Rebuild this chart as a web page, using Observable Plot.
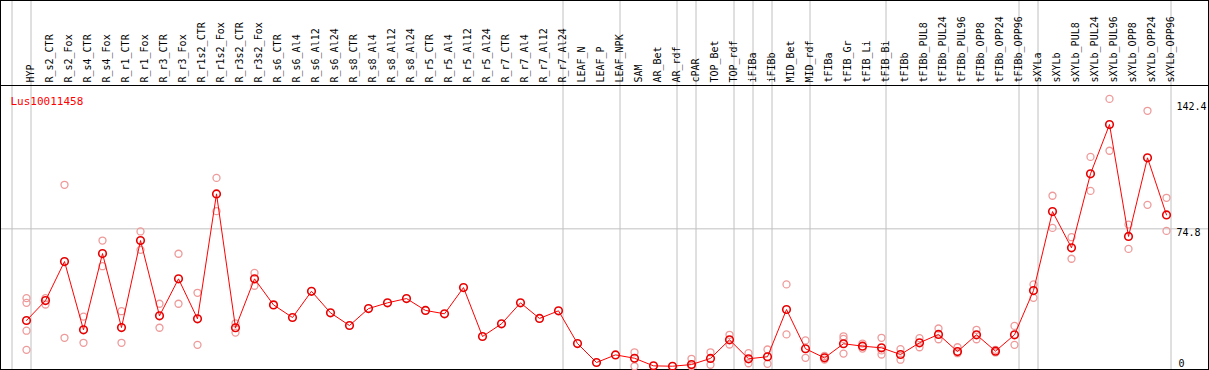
<!DOCTYPE html>
<html>
<head>
<meta charset="utf-8">
<script src="https://cdn.jsdelivr.net/npm/d3@7"></script>
<script src="https://cdn.jsdelivr.net/npm/@observablehq/plot@0.6"></script>
<style>
  html, body { margin: 0; padding: 0; background: #fff; overflow: hidden; }
  svg { display: block; }
</style>
</head>
<body>
<div id="chart"></div>
<script>
const geneId = "Lus10011458";

const samples = [
  "HYP","R_s2_CTR","R_s2_Fox","R_s4_CTR","R_s4_Fox","R_r1_CTR","R_r1_Fox","R_r3_CTR","R_r3_Fox",
  "R_r1s2_CTR","R_r1s2_Fox","R_r3s2_CTR","R_r3s2_Fox","R_s6_CTR","R_s6_Al4","R_s6_Al12","R_s6_Al24",
  "R_s8_CTR","R_s8_Al4","R_s8_Al12","R_s8_Al24","R_r5_CTR","R_r5_Al4","R_r5_Al12","R_r5_Al24",
  "R_r7_CTR","R_r7_Al4","R_r7_Al12","R_r7_Al24","LEAF_N","LEAF_P","LEAF_NPK","SAM","AR_Bet","AR_rdf",
  "cPAR","TOP_Bet","TOP_rdf","iFIBa","iFIBb","MID_Bet","MID_rdf","tFIBa","tFIB_Gr","tFIB_Li","tFIB_Bi",
  "tFIBb","tFIBb_PUL8","tFIBb_PUL24","tFIBb_PUL96","tFIBb_OPP8","tFIBb_OPP24","tFIBb_OPP96",
  "sXYLa","sXYLb","sXYLb_PUL8","sXYLb_PUL24","sXYLb_PUL96","sXYLb_OPP8","sXYLb_OPP24","sXYLb_OPP96"
];

const means = [
  25.5, 36.2, 57.2, 20.5, 61.5, 21.7, 68.5, 28.0, 47.9, 26.4, 93.6, 21.6, 47.9,
  33.9, 27.1, 41.2, 29.6, 22.8, 31.9, 35.0, 37.3, 30.9, 29.1, 43.2, 16.9, 23.7, 35.0, 26.6, 30.7,
  13.1, 2.9, 7.0, 5.2, 1.1, 0.9, 1.8, 5.1, 15.1, 4.9, 6.0, 31.4, 10.3,
  5.4, 13.0, 11.7, 10.8, 7.2, 13.5, 18.0, 8.8, 17.8, 9.0, 17.8,
  41.6, 84.1, 64.6, 104.4, 130.9, 70.7, 113.0, 82.3
];

const replicates = [
  [37.5, 35.0, 20.0, 9.7], [37.5, 34.1], [98.5, 16.2], [27.6, 13.5], [68.5, 54.7], [30.5, 13.5],
  [73.4, 63.5], [34.5, 21.6], [61.4, 34.5], [40.4, 12.4], [102.2, 84.3], [24.0, 19.0], [51.1, 44.2],
  [], [], [], [], [], [], [], [], [], [], [], [], [], [], [], [],
  [], [], [], [8.4, 0.9], [], [], [4.9, 0.9], [8.4, 1.7], [17.8, 12.6], [7.9, 2.5], [9.9, 2.2],
  [44.9, 18.0], [14.8, 5.4], [6.4, 4.5], [17.0, 15.6, 7.7], [13.1, 10.4], [16.2, 9.4, 7.2],
  [10.1, 4.4], [16.0, 11.1], [21.2, 15.4], [11.1, 7.9], [20.5, 15.4], [9.7, 8.3], [22.6, 12.4],
  [44.9, 37.7], [92.6, 75.3], [70.3, 58.7], [113.5, 95.2], [144.7, 116.8], [77.1, 64.0],
  [138.3, 87.7], [91.5, 73.7]
];

// indices of the first sample of each tissue group (plus the end)
const groupStarts = [0, 1, 29, 32, 35, 36, 38, 39, 40, 42, 46, 53, 54, 61];

const yTickLabels = [142.4, 74.8, 0];
const yGrid = [74.8];
const yMax = 151.9;

const meanData = samples.map((s, i) => ({i, sample: s, value: means[i]}));
const repData = replicates.flatMap((vals, i) => vals.map(v => ({i, value: v})));

const W = 1209, H = 370;
const mono = "DejaVu Sans Mono";

const chart = Plot.plot({
  width: W,
  height: H,
  marginTop: 85,
  marginBottom: 1,
  marginLeft: 2,
  marginRight: 39,
  style: {fontFamily: mono, fontSize: "10px", background: "#fff", overflow: "visible"},
  x: {type: "linear", domain: [0, samples.length - 1], range: [26, 1166], axis: null},
  y: {type: "linear", domain: [0, yMax], range: [367.4, 85], axis: null},
  marks: [
    // group separators
    Plot.ruleX(groupStarts, {x: d => d, dx: -14.5, stroke: "#c0c0c0", strokeWidth: 1, insetTop: -85, insetBottom: -1}),
    // horizontal grid
    Plot.ruleY(yGrid, {y: d => d, stroke: "#c0c0c0", strokeWidth: 1, insetLeft: -2, insetRight: -38}),
    // header separator
    Plot.ruleY([yMax], {y: d => d, stroke: "#000", strokeWidth: 1, insetLeft: -2, insetRight: -38}),
    // outer frame
    Plot.frame({stroke: "#000", strokeWidth: 1, insetTop: -85, insetLeft: -2, insetRight: -38, insetBottom: 0}),
    // sample labels
    Plot.text(samples, {
      x: (d, i) => i, text: d => d, frameAnchor: "top", dy: -3,
      rotate: -90, textAnchor: "start", fill: "#000", fontSize: 10
    }),
    // y tick labels
    Plot.text(yTickLabels.filter(v => v > 0), {
      y: d => d, text: d => String(d), frameAnchor: "right", dx: 6,
      textAnchor: "start", lineAnchor: "top", fill: "#000", fontSize: 10
    }),
    Plot.text(yTickLabels.filter(v => v === 0), {
      y: d => d, text: d => String(d), frameAnchor: "right", dx: 8,
      textAnchor: "start", lineAnchor: "bottom", dy: -1, fill: "#000", fontSize: 10
    }),
    // replicate points
    Plot.dot(repData, {x: "i", y: "value", r: 3.5, stroke: "#ee9a9a", strokeWidth: 1.3, fill: "none"}),
    // mean line
    Plot.line(meanData, {x: "i", y: "value", stroke: "#ff0000", strokeWidth: 1, curve: "linear"}),
    // mean points
    Plot.dot(meanData, {x: "i", y: "value", r: 3.8, stroke: "#e80000", strokeWidth: 1.6, fill: "none"}),
    // title
    Plot.text([geneId], {
      text: d => d, frameAnchor: "top-left", dx: 8, dy: 12,
      textAnchor: "start", fill: "#ff0000", fontSize: 11
    })
  ]
});

document.getElementById("chart").appendChild(chart);
</script>
</body>
</html>
